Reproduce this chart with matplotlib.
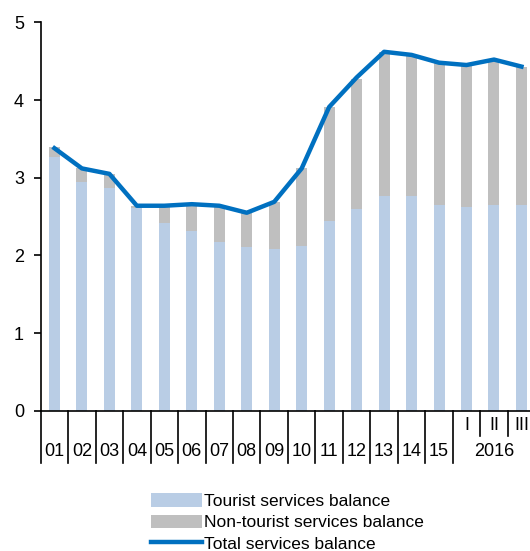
import matplotlib.pyplot as plt
from matplotlib.transforms import blended_transform_factory

plt.rcParams["font.family"] = ["Liberation Sans", "DejaVu Sans"]

labels = ["01", "02", "03", "04", "05", "06", "07", "08", "09", "10",
          "11", "12", "13", "14", "15", "I", "II", "III"]
tourist = [3.27, 2.94, 2.87, 2.61, 2.42, 2.32, 2.17, 2.11, 2.08, 2.12,
           2.44, 2.60, 2.77, 2.77, 2.65, 2.63, 2.65, 2.65]
non_tourist = [0.12, 0.18, 0.18, 0.03, 0.22, 0.33, 0.47, 0.44, 0.61, 1.00,
               1.47, 1.67, 1.85, 1.80, 1.83, 1.82, 1.87, 1.78]
total = [3.38, 3.12, 3.05, 2.64, 2.64, 2.66, 2.64, 2.55, 2.69, 3.12,
         3.91, 4.29, 4.62, 4.58, 4.48, 4.45, 4.52, 4.43]

fig = plt.figure(figsize=(5.30, 5.51), dpi=100)
ax = fig.add_axes([0.0768, 0.2541, 0.933, 0.7055])

x = list(range(len(labels)))
b1 = ax.bar(x, tourist, width=0.4, color="#B9CDE5")
b2 = ax.bar(x, non_tourist, width=0.4, bottom=tourist, color="#BFBFBF")
ln, = ax.plot(x, total, color="#0070C0", lw=3.2, solid_joinstyle="round")

ax.set_xlim(-0.5, len(labels) - 0.5)
ax.set_ylim(0, 5)
ax.set_yticks(range(6))
ax.tick_params(axis="y", direction="out", length=5, width=1.2, labelsize=13, pad=7)
ax.set_xticks([])
for s in ["top", "right"]:
    ax.spines[s].set_visible(False)
ax.spines["left"].set_linewidth(1.2)
ax.spines["bottom"].set_linewidth(1.2)

# category separators and labels under the axis
tr = blended_transform_factory(ax.transData, ax.transAxes)
h = ax.get_position().height * fig.get_figheight() * 100
long_y = -52 / h
short_y = -25 / h
for i in range(16):
    ax.plot([i - 0.5, i - 0.5], [0, long_y], color="black", lw=1.2,
            transform=tr, clip_on=False)
for i in range(16, 19):
    ax.plot([i - 0.5, i - 0.5], [0, short_y], color="black", lw=1.2,
            transform=tr, clip_on=False)
for i in range(15):
    ax.text(i, -41 / h, labels[i], transform=tr, ha="center", va="center",
            fontsize=13)
for i in range(15, 18):
    ax.text(i, -15 / h, labels[i], transform=tr, ha="center", va="center",
            fontsize=13)
ax.text(16, -41 / h, "2016", transform=tr, ha="center", va="center", fontsize=13)

fig.legend([b1, b2, ln],
           ["Tourist services balance", "Non-tourist services balance",
            "Total services balance"],
           loc="upper left", bbox_to_anchor=(0.272, 0.117), frameon=False,
           fontsize=12.5, handlelength=2.95, handleheight=0.8, handletextpad=0.1,
           labelspacing=0.32, borderaxespad=0)

fig.savefig("out.png", dpi=100)
